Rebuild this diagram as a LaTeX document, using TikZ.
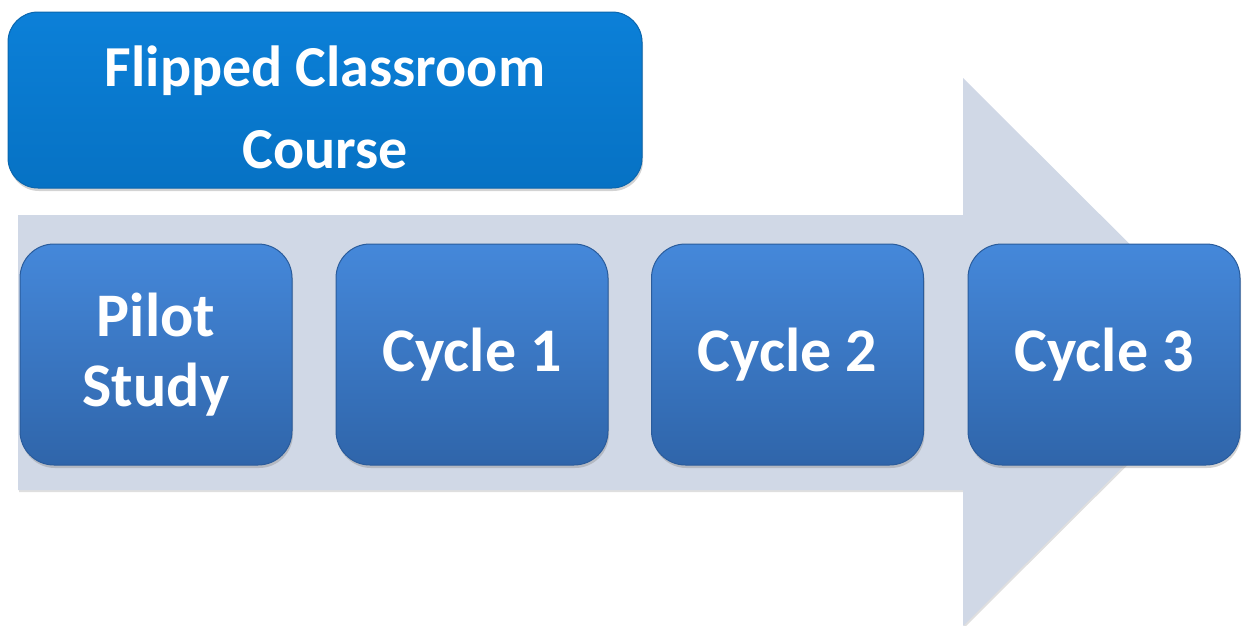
\documentclass[tikz,border=0pt]{standalone}
\usepackage{fontspec}
\setmainfont{Carlito}
\usetikzlibrary{shadows}
\definecolor{arrowfill}{HTML}{D0D8E6}
\definecolor{boxtop}{HTML}{4588DA}
\definecolor{boxbot}{HTML}{2F65AA}
\definecolor{boxline}{HTML}{2A5C9C}
\definecolor{titletop}{HTML}{0C80D8}
\definecolor{titlebot}{HTML}{0672C4}
\definecolor{titleline}{HTML}{0A66AE}
\begin{document}
\begin{tikzpicture}[x=1pt,y=-1pt,
  stagebox/.style={rounded corners=34pt, minimum width=272pt, minimum height=221pt,
    top color=boxtop, bottom color=boxbot, draw=boxline, line width=1pt,
    drop shadow={opacity=0.35, shadow xshift=1pt, shadow yshift=-3pt},
    text=white, font=\bfseries\fontsize{62}{70}\selectfont, align=center, inner sep=0pt},
  titlebox/.style={rounded corners=30pt, minimum width=634pt, minimum height=176pt,
    top color=titletop, bottom color=titlebot, draw=titleline, line width=1pt,
    drop shadow={opacity=0.35, shadow xshift=1pt, shadow yshift=-3pt}, inner sep=0pt},
  titletext/.style={text=white, font=\bfseries\fontsize{58}{82}\selectfont, align=center, inner sep=0pt},
  bigarrow/.style={fill=arrowfill, draw=none,
    drop shadow={opacity=0.25, shadow xshift=1pt, shadow yshift=-2pt}}]
\useasboundingbox (0,0) rectangle (1243,625);
\fill[bigarrow] (18,215) -- (963,215) -- (963,78) -- (1238,352) -- (963,626) -- (963,490) -- (18,490) -- cycle;
\node[titlebox] (course) at (325,100) {};
\node[titletext, yshift=-7.5pt] (coursetext) at (course.center) {Flipped Classroom\\Course};
\node[stagebox] (pilot) at (156,354.5) {Pilot\\Study};
\node[stagebox] (c1) at (472,354.5) {Cycle 1};
\node[stagebox] (c2) at (787.5,354.5) {Cycle 2};
\node[stagebox] (c3) at (1104,354.5) {Cycle 3};
\end{tikzpicture}
\end{document}
